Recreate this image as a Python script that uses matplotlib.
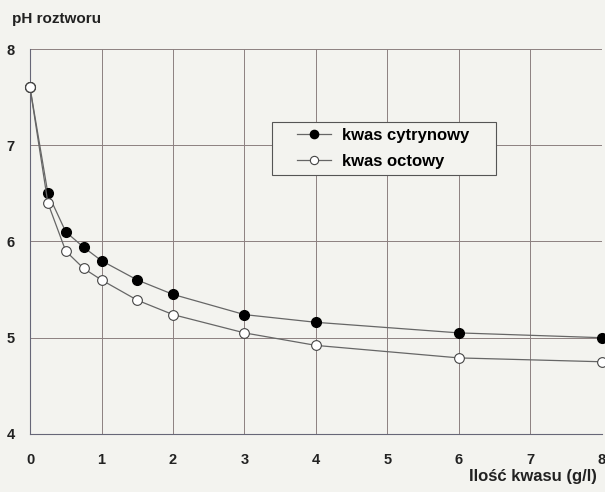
import numpy as np
import matplotlib.pyplot as plt
from matplotlib import patches

# ilość kwasu (g/l)
x_cytr = [0, 0.25, 0.5, 0.75, 1.0, 1.5, 2, 3, 4, 6, 8]
ph_cytr = [7.6, 6.50, 6.10, 5.94, 5.80, 5.60, 5.45, 5.24, 5.16, 5.05, 5.00]

x_oct = [0, 0.25, 0.5, 0.75, 1.0, 1.5, 2, 3, 4, 6, 8]
ph_oct = [7.6, 6.40, 5.90, 5.72, 5.60, 5.39, 5.24, 5.05, 4.92, 4.79, 4.75]

xticks = [0, 1, 2, 3, 4, 5, 6, 7, 8]
yticks = [4, 5, 6, 7, 8]

bg = "#f3f3ef"
plt.rcParams["font.family"] = ["Liberation Sans", "DejaVu Sans"]

fig = plt.figure(figsize=(6.05, 4.92), dpi=100, facecolor=bg)
ax = fig.add_axes([0.0496, 0.118, 0.9454, 0.7824])
ax.set_facecolor(bg)

ax.plot(x_cytr, ph_cytr, "-o", color="#666666", linewidth=0.9,
        markersize=7, markerfacecolor="black", markeredgecolor="black",
        label="kwas cytrynowy", clip_on=False, zorder=3)
ax.plot(x_oct, ph_oct, "-o", color="#666666", linewidth=0.9,
        markersize=7, markerfacecolor="white", markeredgecolor="#444444",
        markeredgewidth=0.8, label="kwas octowy", clip_on=False, zorder=4)

ax.set_xlim(0, 8)
ax.set_ylim(4, 8)
ax.set_xticks(xticks)
ax.set_yticks(yticks)
ax.grid(True, color="#8c8080", linewidth=0.7)
ax.set_axisbelow(True)
for s in ["top", "right"]:
    ax.spines[s].set_visible(False)
for s in ["left", "bottom"]:
    ax.spines[s].set_color("#666677")
    ax.spines[s].set_linewidth(0.8)
ax.tick_params(axis="y", length=0, pad=11, labelsize=10.5, labelcolor="#222222")
ax.tick_params(axis="x", length=0, pad=14, labelsize=10.5, labelcolor="#222222")
for lab in ax.get_xticklabels() + ax.get_yticklabels():
    lab.set_fontweight("bold")

fig.text(12 / 605, 1 - 19 / 492, "pH roztworu", fontsize=11, fontweight="bold",
         color="#222222", va="center", ha="left")
fig.text(597 / 605, 1 - 477 / 492, "Ilość kwasu (g/l)", fontsize=12,
         fontweight="bold", color="#222222", va="center", ha="right")

# legenda bez ramki + osobny prostokąt
leg = ax.legend(loc="center left", bbox_to_anchor=(0.4668, 0.742),
                borderaxespad=0, borderpad=0, frameon=False,
                prop={"weight": "bold", "size": 12}, handlelength=2.04,
                handletextpad=0.66, labelspacing=0.67, markerscale=0.85)
leg.set_zorder(6)
box = patches.Rectangle((0.423, 0.6727), 0.3916, 0.1377, transform=ax.transAxes,
                        facecolor=bg, edgecolor="#555555", linewidth=0.8,
                        zorder=5)
ax.add_patch(box)

fig.savefig("out.png", dpi=100, facecolor=bg)
